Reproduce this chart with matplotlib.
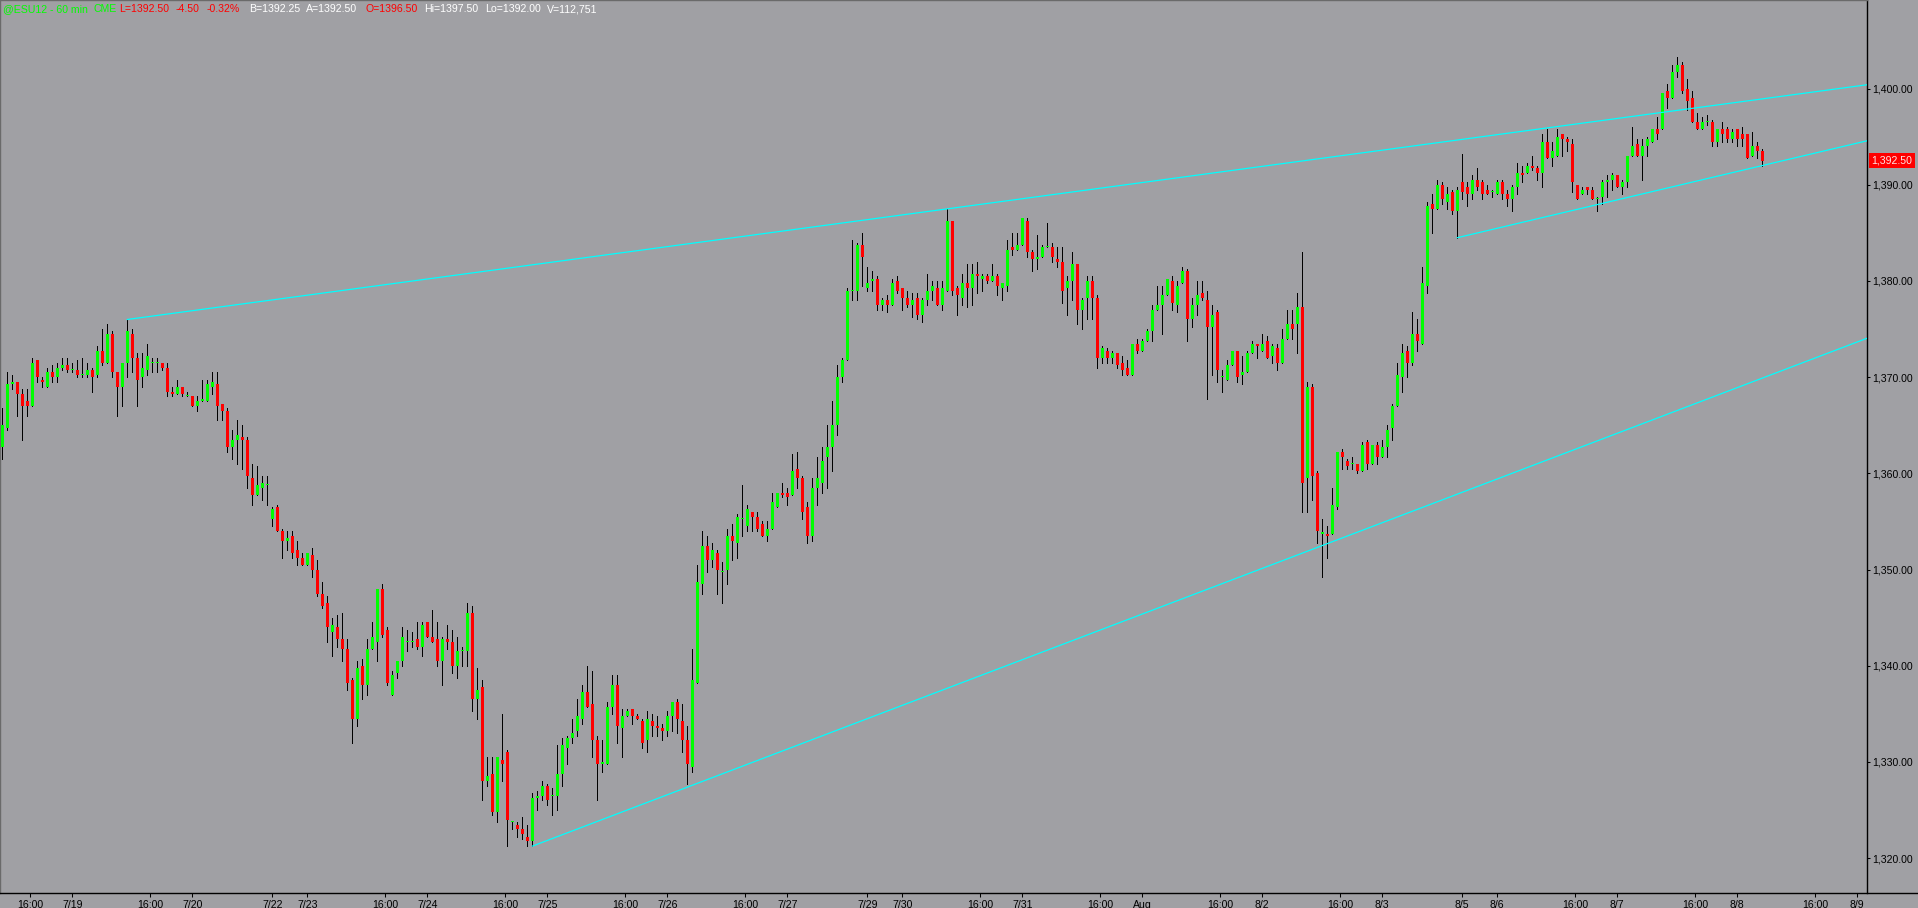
import numpy as np
import matplotlib
matplotlib.use("Agg")
import matplotlib.pyplot as plt
from matplotlib.lines import Line2D
from matplotlib.transforms import blended_transform_factory

# ESU12 60 min bars (bar index 0 = first bar on 7/18)
opens = [
    1362.75, 1364.75, 1369.25, 1369.5, 1368.25, 1367.5, 1367.0, 1371.75, 1369.75, 1369.0,
    1370.5, 1370.0, 1371.0, 1371.25, 1370.75, 1370.75, 1370.25, 1370.25, 1370.75, 1370.25,
    1372.75, 1371.5, 1374.5, 1370.5, 1369.0, 1371.5, 1374.5, 1372.0, 1370.0, 1370.75,
    1371.5, 1371.5, 1371.5, 1371.0, 1368.5, 1368.25, 1369.0, 1368.0, 1368.0, 1367.0,
    1367.5, 1367.5, 1369.0, 1369.25, 1367.25, 1366.5, 1362.75, 1363.5, 1363.75, 1363.5,
    1359.5, 1357.75, 1358.5, 1358.75, 1355.25, 1356.5, 1354.0, 1353.0, 1353.5, 1352.0,
    1351.25, 1350.5, 1351.5, 1350.0, 1347.5, 1346.5, 1343.5, 1344.0, 1342.75, 1341.75,
    1338.5, 1334.5, 1340.0, 1338.0, 1341.75, 1342.5, 1348.0, 1343.75, 1337.0, 1339.25,
    1340.5, 1342.5, 1342.5, 1342.75, 1342.0, 1344.5, 1343.0, 1342.75, 1340.5, 1342.75,
    1342.5, 1340.0, 1341.5, 1341.5, 1345.5, 1336.5, 1337.75, 1328.0, 1328.75, 1324.75,
    1330.25, 1331.0, 1323.75, 1323.5, 1323.0, 1322.25, 1321.75, 1326.25, 1326.5, 1327.5,
    1326.5, 1326.5, 1328.75, 1331.5, 1332.5, 1333.25, 1334.5, 1337.25, 1336.0, 1332.25,
    1329.75, 1329.75, 1335.75, 1338.0, 1333.5, 1334.75, 1335.5, 1334.75, 1334.25, 1332.25,
    1334.25, 1333.75, 1333.5, 1333.25, 1334.75, 1336.25, 1334.25, 1332.25, 1329.5, 1338.25,
    1348.5, 1352.5, 1351.0, 1351.75, 1349.75, 1350.0, 1353.5, 1352.75, 1355.25, 1354.5,
    1356.0, 1355.5, 1354.75, 1353.5, 1354.25, 1356.5, 1358.0, 1358.0, 1357.75, 1360.5,
    1359.5, 1356.5, 1353.5, 1358.5, 1359.0, 1361.75, 1362.75, 1365.0, 1370.0, 1371.75,
    1379.0, 1379.0, 1383.75, 1379.25, 1380.0, 1380.25, 1377.5, 1378.0, 1377.5, 1380.0,
    1379.25, 1378.25, 1377.5, 1378.25, 1376.5, 1378.0, 1379.0, 1379.25, 1377.5, 1379.0,
    1386.25, 1379.25, 1378.25, 1379.75, 1379.25, 1380.75, 1380.25, 1380.5, 1380.0, 1380.5,
    1379.25, 1379.5, 1383.5, 1383.25, 1383.75, 1386.25, 1383.0, 1382.25, 1382.5, 1383.5,
    1383.5, 1382.25, 1382.0, 1379.25, 1380.0, 1381.75, 1377.0, 1378.25, 1380.0, 1378.25,
    1372.0, 1372.75, 1372.0, 1372.5, 1371.5, 1371.0, 1370.25, 1373.5, 1372.75, 1373.75,
    1374.75, 1377.0, 1377.5, 1378.5, 1380.0, 1377.5, 1379.75, 1381.0, 1376.0, 1377.5,
    1378.75, 1378.0, 1375.25, 1376.75, 1370.0, 1369.75, 1371.25, 1372.75, 1370.25, 1370.5,
    1372.5, 1373.5, 1372.75, 1373.75, 1372.25, 1373.0, 1371.5, 1374.0, 1375.5, 1375.5,
    1377.25, 1359.5, 1369.0, 1360.0, 1353.75, 1353.75, 1353.75, 1356.5, 1362.25, 1361.25,
    1361.0, 1361.0, 1360.25, 1363.25, 1361.0, 1363.0, 1361.75, 1362.75, 1364.75, 1367.0,
    1370.0, 1372.75, 1371.5, 1374.5, 1373.5, 1379.5, 1388.0, 1387.5, 1390.0, 1388.25,
    1389.25, 1387.25, 1390.25, 1389.75, 1389.0, 1390.5, 1390.25, 1389.5, 1389.25, 1389.0,
    1390.25, 1389.0, 1388.5, 1389.75, 1391.25, 1391.25, 1392.0, 1391.75, 1391.25, 1394.5,
    1392.75, 1393.0, 1395.25, 1394.75, 1394.25, 1390.0, 1389.0, 1389.75, 1389.5, 1388.5,
    1388.75, 1390.25, 1390.5, 1391.0, 1389.75, 1390.25, 1393.0, 1394.25, 1393.0, 1394.0,
    1394.5, 1395.75, 1395.75, 1399.75, 1399.0, 1401.75, 1402.5, 1400.0, 1399.0, 1396.5,
    1395.75, 1396.5, 1396.5, 1394.5, 1395.75, 1395.75, 1394.75, 1395.75, 1395.25, 1395.25,
    1393.0, 1394.0, 1393.5,
]
highs = [
    1366.75, 1370.5, 1370.25, 1369.5, 1368.75, 1368.75, 1372.0, 1371.75, 1370.0, 1371.0,
    1371.25, 1371.5, 1372.0, 1372.0, 1371.5, 1371.75, 1372.0, 1371.5, 1371.0, 1373.25,
    1375.0, 1375.5, 1374.75, 1370.5, 1371.5, 1376.0, 1375.0, 1372.5, 1372.5, 1373.5,
    1372.0, 1372.0, 1371.5, 1371.5, 1369.0, 1369.75, 1369.0, 1368.5, 1368.0, 1368.0,
    1369.75, 1369.75, 1370.5, 1370.5, 1367.25, 1366.75, 1364.5, 1365.5, 1365.0, 1363.75,
    1361.0, 1360.75, 1359.75, 1359.75, 1356.5, 1356.75, 1354.25, 1354.0, 1354.0, 1353.0,
    1351.75, 1351.75, 1352.25, 1351.0, 1348.75, 1347.25, 1345.0, 1345.25, 1345.5, 1342.75,
    1338.75, 1340.5, 1340.75, 1342.75, 1344.5, 1348.0, 1348.5, 1344.0, 1339.5, 1340.5,
    1344.0, 1343.75, 1343.5, 1344.5, 1344.5, 1344.5, 1345.75, 1344.5, 1343.0, 1344.25,
    1343.75, 1343.0, 1342.0, 1346.5, 1346.25, 1339.75, 1338.5, 1330.5, 1330.5, 1330.5,
    1335.0, 1331.25, 1323.75, 1323.75, 1324.25, 1323.5, 1326.75, 1327.0, 1328.0, 1327.75,
    1327.25, 1331.75, 1332.5, 1332.75, 1334.5, 1336.5, 1338.0, 1340.0, 1339.5, 1332.75,
    1332.25, 1336.25, 1339.0, 1339.0, 1335.5, 1335.5, 1335.5, 1335.0, 1334.5, 1335.25,
    1335.0, 1334.75, 1334.0, 1335.25, 1336.25, 1336.5, 1336.0, 1333.75, 1341.75, 1350.5,
    1354.0, 1353.5, 1352.75, 1352.0, 1350.75, 1354.25, 1354.75, 1355.75, 1358.75, 1356.75,
    1356.0, 1356.0, 1355.0, 1355.0, 1358.0, 1358.0, 1359.0, 1358.5, 1362.0, 1362.25,
    1359.75, 1357.0, 1359.5, 1361.75, 1362.75, 1365.0, 1367.5, 1371.25, 1372.0, 1379.25,
    1384.25, 1384.0, 1385.0, 1381.5, 1381.0, 1380.5, 1378.25, 1378.5, 1380.25, 1380.5,
    1379.25, 1379.0, 1378.75, 1378.75, 1378.25, 1380.75, 1380.0, 1380.0, 1380.0, 1387.5,
    1386.25, 1379.5, 1380.75, 1381.75, 1381.75, 1382.0, 1380.75, 1380.75, 1381.75, 1380.75,
    1379.75, 1384.25, 1385.0, 1385.0, 1386.5, 1386.5, 1383.25, 1384.75, 1383.75, 1386.0,
    1384.0, 1383.5, 1383.5, 1380.5, 1383.0, 1381.75, 1378.25, 1380.5, 1380.5, 1378.5,
    1373.25, 1373.0, 1372.75, 1372.5, 1372.25, 1371.75, 1373.5, 1374.0, 1374.0, 1375.0,
    1377.5, 1379.5, 1379.5, 1380.25, 1380.5, 1380.0, 1381.5, 1381.25, 1378.25, 1380.0,
    1380.0, 1379.0, 1377.5, 1377.0, 1370.75, 1371.75, 1372.75, 1372.75, 1372.25, 1372.75,
    1373.75, 1373.5, 1374.5, 1374.25, 1373.5, 1373.5, 1375.0, 1377.0, 1377.0, 1378.75,
    1383.0, 1369.5, 1369.25, 1360.25, 1355.25, 1354.5, 1358.5, 1362.25, 1362.5, 1361.5,
    1361.75, 1361.0, 1363.25, 1363.5, 1363.0, 1363.25, 1363.5, 1365.0, 1367.25, 1371.5,
    1373.5, 1373.25, 1376.75, 1376.0, 1381.5, 1388.25, 1389.0, 1390.5, 1390.25, 1389.75,
    1389.5, 1389.75, 1393.25, 1390.25, 1391.0, 1391.75, 1390.5, 1390.0, 1389.5, 1390.5,
    1390.5, 1389.5, 1390.0, 1392.25, 1392.0, 1392.25, 1393.0, 1392.0, 1395.25, 1395.75,
    1394.5, 1395.75, 1395.25, 1395.0, 1394.75, 1390.0, 1389.75, 1389.75, 1389.75, 1388.75,
    1390.5, 1391.0, 1391.25, 1391.0, 1390.5, 1393.0, 1396.0, 1394.75, 1394.75, 1395.0,
    1395.75, 1397.0, 1399.5, 1400.5, 1402.5, 1403.25, 1402.75, 1401.0, 1399.75, 1397.5,
    1397.0, 1397.25, 1396.75, 1395.75, 1396.5, 1396.0, 1395.75, 1395.75, 1396.0, 1395.25,
    1395.5, 1394.5, 1393.75,
]
lows = [
    1361.5, 1364.5, 1368.75, 1366.0, 1363.5, 1366.0, 1367.0, 1369.5, 1369.0, 1369.0,
    1369.5, 1369.5, 1370.75, 1370.5, 1370.5, 1370.0, 1370.0, 1370.0, 1368.5, 1370.0,
    1371.25, 1371.5, 1370.0, 1366.0, 1367.0, 1370.0, 1370.5, 1367.0, 1369.0, 1370.25,
    1370.5, 1370.5, 1370.75, 1368.0, 1368.0, 1368.25, 1368.0, 1368.0, 1367.0, 1366.5,
    1367.5, 1367.5, 1368.25, 1365.5, 1365.5, 1362.25, 1361.5, 1361.0, 1360.5, 1358.5,
    1356.75, 1357.75, 1357.25, 1356.75, 1354.5, 1354.0, 1351.25, 1352.0, 1351.25, 1350.5,
    1350.5, 1350.5, 1349.25, 1347.25, 1346.0, 1342.5, 1341.0, 1342.0, 1340.5, 1337.5,
    1332.0, 1333.75, 1336.5, 1337.0, 1341.75, 1340.5, 1343.0, 1338.0, 1337.0, 1338.75,
    1340.0, 1341.5, 1342.0, 1341.75, 1341.0, 1343.0, 1342.5, 1340.0, 1338.0, 1341.75,
    1339.25, 1338.75, 1340.0, 1340.0, 1335.25, 1334.5, 1326.0, 1327.5, 1324.5, 1323.75,
    1328.0, 1321.25, 1323.0, 1322.25, 1322.0, 1321.25, 1321.25, 1325.0, 1326.0, 1325.5,
    1324.5, 1325.0, 1327.5, 1329.75, 1332.0, 1332.75, 1334.0, 1335.75, 1330.5, 1326.0,
    1329.0, 1329.75, 1335.0, 1332.0, 1330.5, 1334.75, 1334.0, 1334.5, 1331.5, 1331.0,
    1332.75, 1332.75, 1332.25, 1332.75, 1333.25, 1333.0, 1331.0, 1327.75, 1329.0, 1338.25,
    1347.5, 1349.75, 1350.25, 1347.5, 1346.5, 1348.5, 1351.0, 1351.25, 1353.5, 1354.0,
    1354.0, 1354.0, 1353.5, 1353.0, 1354.25, 1356.5, 1357.5, 1356.75, 1357.75, 1358.5,
    1355.25, 1352.75, 1353.0, 1356.75, 1358.0, 1358.5, 1360.25, 1364.0, 1369.5, 1371.75,
    1378.0, 1378.0, 1379.5, 1379.0, 1379.0, 1377.0, 1377.0, 1376.75, 1377.5, 1378.75,
    1377.0, 1377.25, 1376.25, 1376.0, 1375.75, 1377.5, 1378.0, 1377.5, 1377.0, 1379.0,
    1378.5, 1376.5, 1377.5, 1377.25, 1377.5, 1378.75, 1379.0, 1379.75, 1380.0, 1378.5,
    1378.0, 1379.0, 1382.75, 1383.25, 1383.75, 1382.5, 1381.0, 1381.25, 1382.5, 1383.5,
    1382.0, 1381.5, 1377.75, 1376.5, 1378.0, 1375.5, 1375.0, 1376.0, 1376.0, 1371.0,
    1371.5, 1371.5, 1371.5, 1371.0, 1370.25, 1370.25, 1370.25, 1372.5, 1372.75, 1373.75,
    1373.75, 1377.0, 1374.5, 1378.5, 1377.0, 1376.75, 1379.75, 1373.75, 1375.25, 1376.5,
    1378.0, 1367.75, 1370.25, 1369.5, 1368.5, 1369.75, 1371.25, 1369.5, 1369.25, 1370.5,
    1372.5, 1372.0, 1372.75, 1372.0, 1371.5, 1370.75, 1371.5, 1374.0, 1374.0, 1372.5,
    1356.0, 1356.0, 1357.25, 1352.75, 1349.25, 1351.25, 1353.75, 1356.25, 1360.5, 1360.5,
    1360.5, 1360.0, 1360.25, 1360.5, 1361.0, 1361.0, 1361.75, 1361.75, 1363.5, 1367.0,
    1368.5, 1370.0, 1371.25, 1372.75, 1373.5, 1378.75, 1385.0, 1387.5, 1388.0, 1387.5,
    1387.0, 1384.5, 1388.5, 1387.75, 1388.5, 1389.5, 1388.5, 1389.0, 1388.75, 1389.0,
    1388.5, 1387.75, 1387.25, 1389.0, 1390.25, 1391.25, 1391.5, 1390.5, 1389.75, 1392.75,
    1392.0, 1393.0, 1393.0, 1393.5, 1389.25, 1388.5, 1389.0, 1389.0, 1388.5, 1387.25,
    1388.0, 1388.75, 1389.5, 1389.75, 1389.0, 1389.75, 1393.0, 1393.0, 1390.5, 1393.0,
    1394.5, 1394.75, 1395.75, 1398.0, 1399.0, 1401.25, 1399.5, 1397.75, 1396.5, 1395.75,
    1395.75, 1396.25, 1394.0, 1394.0, 1394.5, 1394.5, 1394.5, 1394.0, 1394.0, 1392.75,
    1393.0, 1392.75, 1392.0,
]
closes = [
    1365.0, 1369.25, 1369.5, 1368.25, 1367.0, 1367.0, 1371.5, 1370.0, 1369.5, 1370.5,
    1370.0, 1371.0, 1371.25, 1370.75, 1370.75, 1370.25, 1370.25, 1370.75, 1370.0, 1372.75,
    1371.5, 1374.5, 1370.5, 1369.0, 1371.5, 1374.75, 1372.0, 1369.75, 1371.0, 1372.25,
    1371.5, 1371.5, 1371.0, 1368.5, 1368.25, 1369.0, 1368.25, 1368.0, 1367.0, 1367.5,
    1367.75, 1369.25, 1369.5, 1367.0, 1366.5, 1362.75, 1363.5, 1364.0, 1363.5, 1359.75,
    1357.75, 1358.75, 1359.0, 1358.75, 1356.25, 1354.0, 1353.0, 1353.25, 1351.75, 1351.25,
    1350.5, 1351.75, 1350.0, 1347.5, 1346.25, 1344.0, 1344.25, 1342.75, 1341.75, 1338.25,
    1334.5, 1339.75, 1338.0, 1341.75, 1343.0, 1348.0, 1343.25, 1338.25, 1339.0, 1340.5,
    1343.0, 1342.5, 1342.5, 1342.0, 1344.25, 1343.0, 1342.5, 1340.5, 1342.75, 1342.5,
    1340.0, 1341.5, 1341.5, 1345.5, 1336.5, 1337.5, 1328.0, 1328.5, 1324.75, 1330.5,
    1329.75, 1324.0, 1323.75, 1323.0, 1322.5, 1321.75, 1326.25, 1326.5, 1327.5, 1326.0,
    1326.5, 1328.75, 1331.75, 1332.5, 1333.0, 1334.75, 1337.25, 1335.75, 1332.25, 1329.75,
    1330.0, 1335.75, 1338.0, 1333.75, 1334.75, 1335.25, 1334.75, 1334.5, 1332.0, 1334.5,
    1333.75, 1333.5, 1333.25, 1334.75, 1336.25, 1334.5, 1332.25, 1329.75, 1338.5, 1348.75,
    1352.5, 1351.0, 1352.0, 1350.0, 1349.75, 1353.5, 1353.0, 1355.5, 1355.25, 1356.25,
    1355.5, 1354.25, 1353.5, 1354.25, 1357.0, 1358.0, 1357.75, 1357.5, 1360.25, 1359.5,
    1356.0, 1353.5, 1358.5, 1359.5, 1361.25, 1362.75, 1365.0, 1370.0, 1371.75, 1379.0,
    1379.0, 1383.75, 1382.5, 1379.75, 1380.25, 1377.5, 1378.0, 1377.5, 1379.75, 1379.0,
    1378.25, 1377.5, 1378.0, 1376.5, 1378.0, 1379.0, 1379.5, 1377.5, 1379.25, 1386.25,
    1379.0, 1378.5, 1379.75, 1379.25, 1380.75, 1380.5, 1380.5, 1380.0, 1380.5, 1379.5,
    1379.75, 1383.25, 1383.25, 1383.75, 1386.5, 1383.0, 1382.25, 1382.5, 1383.5, 1383.5,
    1382.5, 1382.0, 1379.0, 1380.0, 1381.75, 1377.0, 1378.0, 1380.0, 1378.25, 1372.0,
    1373.0, 1372.0, 1372.5, 1371.25, 1370.75, 1370.25, 1373.5, 1372.75, 1373.75, 1374.75,
    1377.0, 1377.5, 1378.5, 1380.25, 1377.75, 1379.5, 1381.0, 1376.0, 1377.5, 1378.5,
    1378.25, 1375.25, 1376.5, 1370.75, 1370.0, 1371.25, 1372.75, 1370.0, 1370.5, 1372.5,
    1373.5, 1373.25, 1373.5, 1372.0, 1373.25, 1371.5, 1374.0, 1375.5, 1375.0, 1377.25,
    1359.0, 1369.0, 1359.75, 1354.0, 1353.75, 1353.5, 1356.75, 1362.25, 1361.75, 1360.75,
    1361.0, 1360.25, 1363.0, 1361.0, 1363.0, 1361.75, 1362.75, 1364.5, 1367.0, 1370.25,
    1372.5, 1371.5, 1374.5, 1373.75, 1379.75, 1387.75, 1387.5, 1390.0, 1388.5, 1389.0,
    1387.25, 1389.5, 1389.25, 1389.0, 1390.5, 1389.75, 1389.0, 1389.0, 1389.25, 1390.25,
    1389.0, 1388.5, 1389.75, 1391.25, 1391.0, 1392.0, 1391.75, 1391.25, 1394.5, 1392.75,
    1393.5, 1395.0, 1394.75, 1394.5, 1390.25, 1388.5, 1389.5, 1389.5, 1388.5, 1388.5,
    1390.25, 1390.5, 1391.0, 1389.75, 1390.25, 1393.0, 1394.0, 1393.0, 1394.0, 1394.75,
    1395.75, 1395.25, 1399.5, 1399.0, 1401.75, 1402.5, 1399.75, 1398.75, 1396.5, 1395.75,
    1396.5, 1396.5, 1394.5, 1395.75, 1395.25, 1394.75, 1395.5, 1394.75, 1394.75, 1392.75,
    1394.0, 1393.5, 1392.5,
]

# trendlines: two anchor points (bar index, price), extended to the right edge
trend_upper = [(25, 1376.0), (189, 1387.5)]
trend_lower = [(106, 1321.25), (264, 1352.5)]
trend_short = [(291, 1384.5), (352, 1392.0)]

# time axis labels (bar index position, text)
xtick_pos = [5.6, 14, 29.6, 38, 54, 61, 76.6, 85, 100.6, 109, 124.6, 133, 148.6, 157,
             173, 180, 195.6, 204, 219.6, 228, 243.6, 252, 267.6, 276, 292, 299,
             314.6, 323, 338.6, 347, 362.6, 371]
xtick_lab = ['16:00', '7/19', '16:00', '7/20', '7/22', '7/23', '16:00', '7/24', '16:00', '7/25',
             '16:00', '7/26', '16:00', '7/27', '7/29', '7/30', '16:00', '7/31', '16:00', 'Aug',
             '16:00', '8/2', '16:00', '8/3', '8/5', '8/6', '16:00', '8/7', '16:00', '8/8',
             '16:00', '8/9']
ytick_vals = [1320, 1330, 1340, 1350, 1360, 1370, 1380, 1390, 1400]

header = [('@ESU12 - 60 min', '#00ff00'), ('CME', '#00ff00'), ('L=1392.50', '#ff0000'),
          ('-4.50', '#ff0000'), ('-0.32%', '#ff0000'), ('B=1392.25', '#ffffff'),
          ('A=1392.50', '#ffffff'), ('O=1396.50', '#ff0000'), ('Hi=1397.50', '#ffffff'),
          ('Lo=1392.00', '#ffffff'), ('V=112,751', '#ffffff')]
header_x = [3, 93, 119, 176, 207, 249, 306, 365, 424, 485, 547]

BG = '#a0a0a4'
FS = 7.6
plt.rcParams['font.family'] = ['Liberation Sans', 'DejaVu Sans']

W, H = 1918, 908
fig = plt.figure(figsize=(W / 100, H / 100), dpi=100, facecolor=BG)
ax = fig.add_axes([0, (H - 893) / H, 1867 / W, 893 / H], facecolor=BG)

o = np.array(opens)
h = np.array(highs)
l = np.array(lows)
c = np.array(closes)
x = np.arange(len(o))

ax.vlines(x, l, h, color='black', lw=0.5, zorder=2, antialiased=False)
colors = np.where(c >= o, '#00ff00', '#ff0000')
body_lo = np.minimum(o, c)
body_h = np.maximum(np.abs(c - o), 0.11)
ax.bar(x, body_h, bottom=body_lo, width=0.6, color=colors, edgecolor='none',
       zorder=3, antialiased=False)

xmin, xmax = -0.46, 372.94
ymin, ymax = 1316.38, 1409.21
ax.set_xlim(xmin, xmax)
ax.set_ylim(ymin, ymax)

for (x1, y1), (x2, y2) in [trend_upper, trend_lower, trend_short]:
    slope = (y2 - y1) / (x2 - x1)
    ax.plot([x1, xmax], [y1, y1 + slope * (xmax - x1)], color='#00ffff', lw=0.9, zorder=4)

ax.set_xticks(xtick_pos)
ax.set_xticklabels(xtick_lab)
ax.set_yticks(ytick_vals)
ax.set_yticklabels(['{:,.2f}'.format(v) for v in ytick_vals])
ax.tick_params(axis='x', direction='out', length=2.9, width=0.75, pad=2.0,
               labelsize=FS, colors='black')
ax.tick_params(axis='y', direction='out', length=2.2, width=0.75, pad=1.5,
               labelsize=FS, colors='black', left=False, labelleft=False,
               right=True, labelright=True)

for side in ['top', 'left']:
    ax.spines[side].set_color('#6a6a6a')
    ax.spines[side].set_linewidth(1.0)
ax.spines['right'].set_color('black')
ax.spines['right'].set_linewidth(1.0)
ax.spines['bottom'].set_visible(False)
fig.add_artist(Line2D([0, 1], [(H - 893) / H, (H - 893) / H], color='black', lw=1.0,
                      transform=fig.transFigure))

# last price marker
tr = blended_transform_factory(fig.transFigure, ax.transData)
ax.text(1892 / W, closes[-1], '{:,.2f}'.format(closes[-1]), transform=tr,
        ha='center', va='center', fontsize=FS, color='#ffe4e4', clip_on=False,
        bbox=dict(boxstyle='square,pad=0.22', facecolor='#ff0000', edgecolor='none'))

for (txt, col), px in zip(header, header_x):
    fig.text(px / W, 1 - 9.5 / H, txt, color=col, fontsize=FS, ha='left', va='center')

fig.savefig('out.png', dpi=100, facecolor=BG)
